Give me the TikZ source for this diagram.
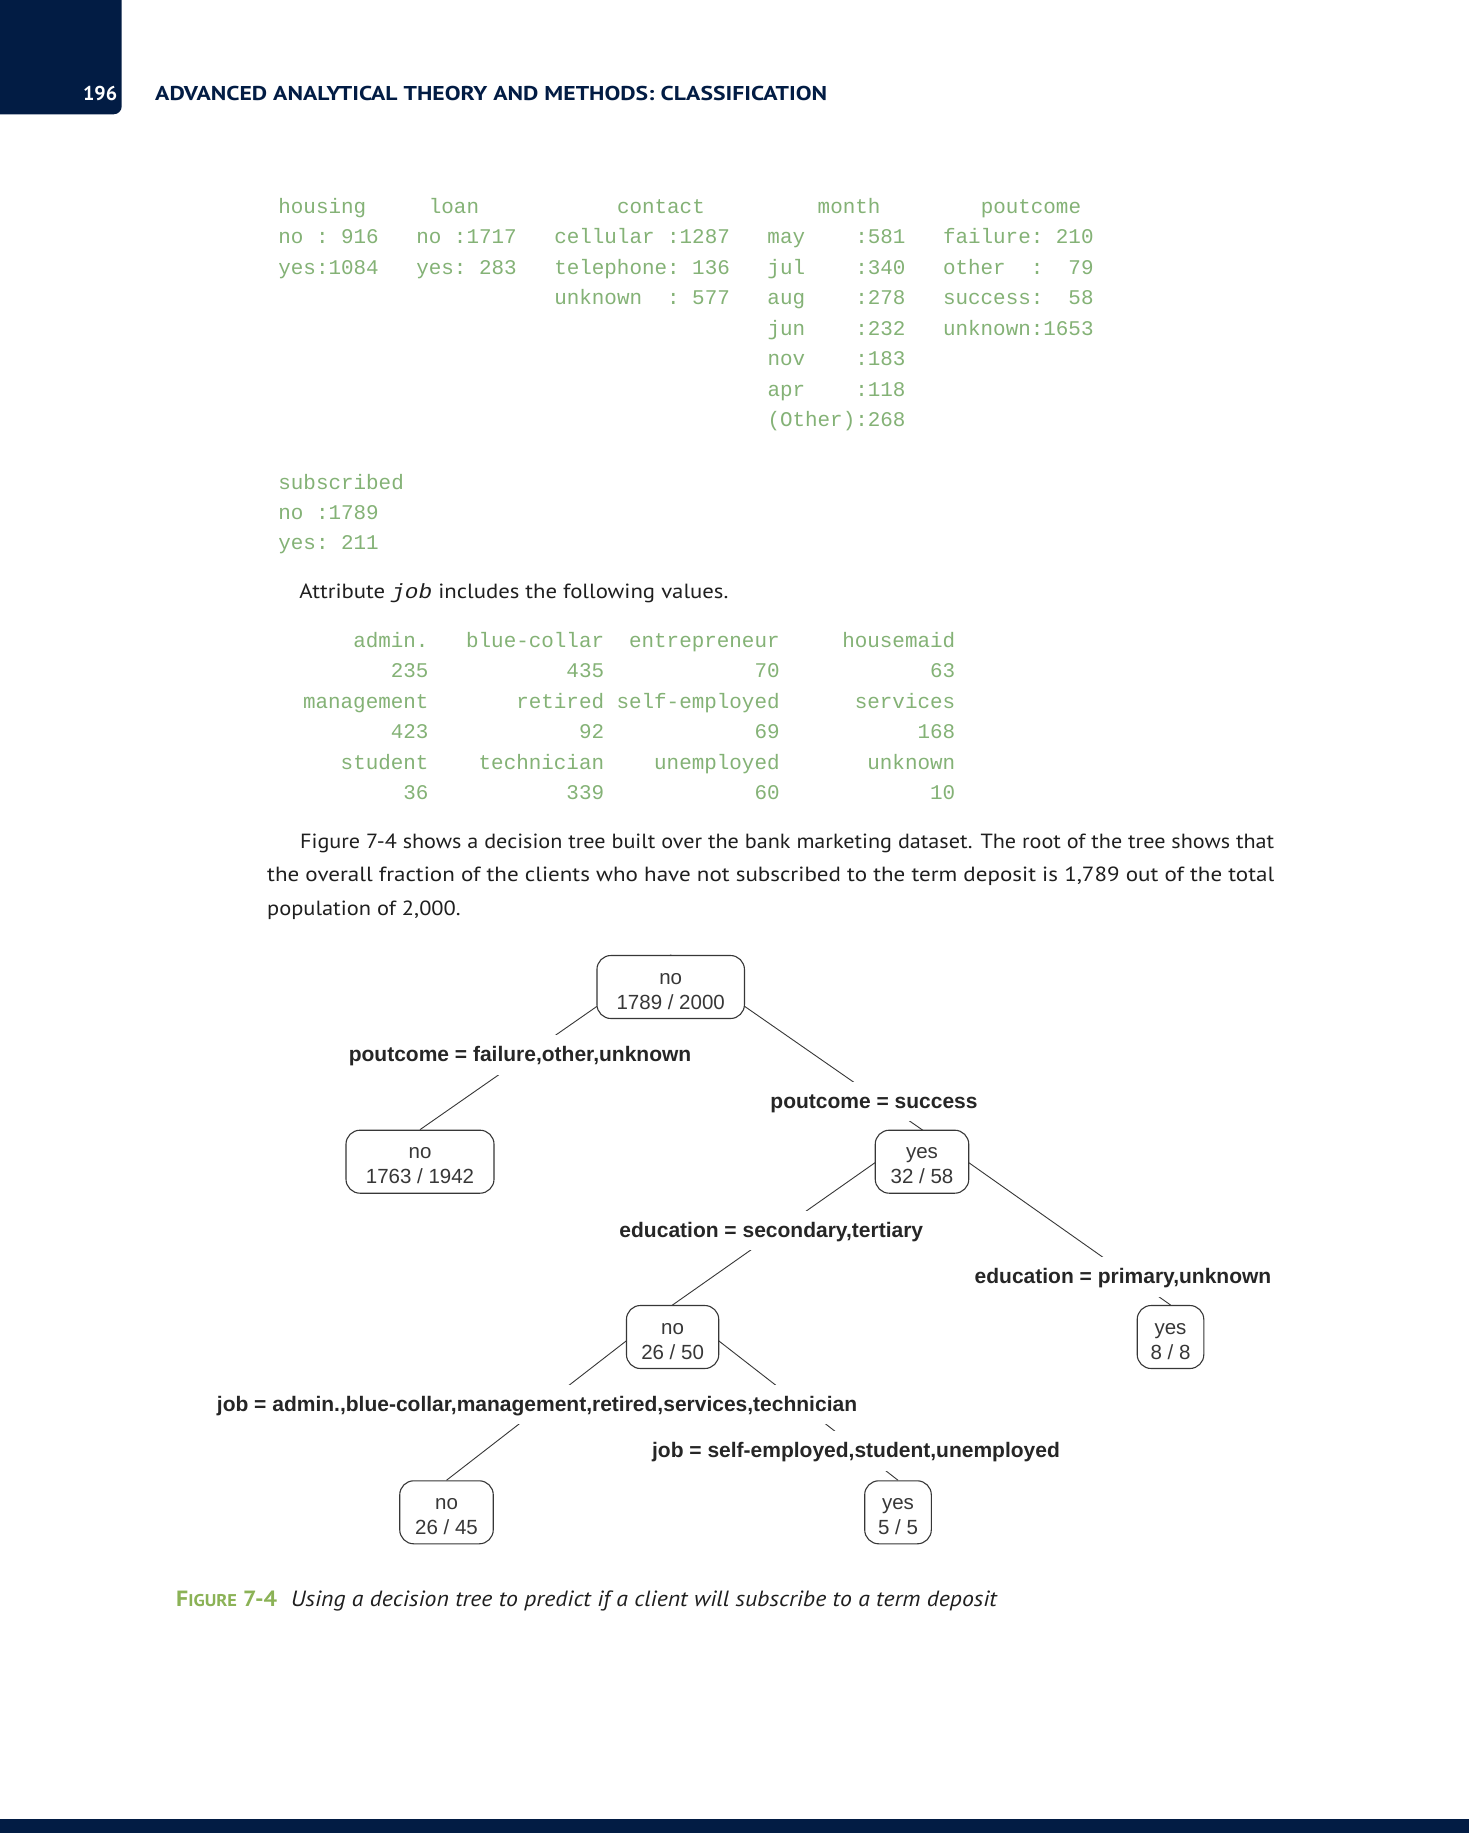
\documentclass[tikz,border=0pt]{standalone}
\usepackage{fontspec}
\usepackage{graphicx}
\setmainfont{PT Sans}
\newfontfamily\treefont{Liberation Sans}
\newfontfamily\codefont{Liberation Mono}
\usetikzlibrary{positioning}

\definecolor{pagenavy}{RGB}{2,28,68}
\definecolor{codegreen}{RGB}{132,178,118}
\definecolor{capgreen}{RGB}{139,178,86}
\definecolor{treegray}{RGB}{55,55,55}

\pgfdeclarelayer{paper}
\pgfdeclarelayer{edges}
\pgfsetlayers{paper,edges,main}

% squeeze a line of text to a given width
\newcommand{\squeeze}[2]{\resizebox{#1}{\height}{#2}}

\begin{document}
\begin{tikzpicture}[
    x=1pt, y=-1pt,
    code/.style={anchor=base west, inner sep=0pt, text=codegreen, font=\codefont\fontsize{20.9}{25}\selectfont},
    coder/.style={code, anchor=base east},
    body/.style={anchor=base west, inner sep=0pt, text=black!88, font=\fontsize{20.5}{25}\selectfont},
    leaf/.style={draw=treegray, fill=white, line width=1.1pt, rounded corners=14pt, align=center, text=treegray, minimum height=63pt, inner sep=0pt, text height=44pt, text depth=0pt, font=\treefont\fontsize{20.5}{25}\selectfont},
    split/.style={fill=white, text=black!85, inner xsep=2pt, inner ysep=10pt, text height=16.5pt, text depth=3pt, font=\treefont\bfseries\fontsize{21}{25}\selectfont},
    edge/.style={draw=treegray, line width=0.9pt}
]
\useasboundingbox (0,0) rectangle (1469,1833);
\begin{pgfonlayer}{paper}
\fill[white] (0,0) rectangle (1469,1833);
\end{pgfonlayer}

% page head and foot
\fill[pagenavy] (0,0) -- (121.7,0) -- (121.7,106.3) arc[start angle=0, end angle=90, radius=8] -- (0,114.3) -- cycle;
\fill[pagenavy] (0,1819) rectangle (1469,1833);
\node[anchor=base east, inner sep=0pt, text=white, font=\bfseries\fontsize{20}{24}\selectfont] (pageno) at (117.3,100.7) {196};
\node[anchor=base west, inner sep=0pt, text=pagenavy, font=\bfseries\fontsize{20}{24}\selectfont] (runhead) at (155,100.7) {\squeeze{672pt}{ADVANCED ANALYTICAL THEORY AND METHODS: CLASSIFICATION}};

% summary output
\node[code] (sum1) at (278.2,213.3) {housing~~~~~loan~~~~~~~~~~~contact~~~~~~~~~month~~~~~~~~poutcome};
\node[code] (sum2) at (278.2,243.75) {no~:~916~~~no~:1717~~~cellular~:1287~~~may~~~~:581~~~failure:~210};
\node[code] (sum3) at (278.2,274.2) {yes:1084~~~yes:~283~~~telephone:~136~~~jul~~~~:340~~~other~~:~~79};
\node[code] (sum4) at (554.1,304.65) {unknown~~:~577~~~aug~~~~:278~~~success:~~58};
\node[code] (sum5) at (767.3,335.1) {jun~~~~:232~~~unknown:1653};
\node[code] (sum6) at (767.3,365.55) {nov~~~~:183};
\node[code] (sum7) at (767.3,396) {apr~~~~:118};
\node[code] (sum8) at (767.3,426.45) {(Other):268};

\node[code] (subs1) at (278.2,489.1) {subscribed};
\node[code] (subs2) at (278.2,519.5) {no~:1789};
\node[code] (subs3) at (278.2,549.9) {yes:~211};

\node[body] (attr) at (299.2,598) {\squeeze{429pt}{Attribute {\codefont\itshape job} includes the following values.}};

% job counts
\foreach \ja/\jb/\jc/\jd [count=\r from 0] in {admin./blue-collar/entrepreneur/housemaid, 235/435/70/63, management/retired/self-employed/services, 423/92/69/168, student/technician/unemployed/unknown, 36/339/60/10}
{
  \node[coder] (jobA\r) at (428.7,647.1+30.5*\r) {\ja};
  \node[coder] (jobB\r) at (604.3,647.1+30.5*\r) {\jb};
  \node[coder] (jobC\r) at (779.8,647.1+30.5*\r) {\jc};
  \node[coder] (jobD\r) at (955.4,647.1+30.5*\r) {\jd};
}

\node[body] (para1) at (300,848.3) {\squeeze{974pt}{Figure 7-4 shows a decision tree built over the bank marketing dataset. The root of the tree shows that}};
\node[body] (para2) at (267,881.7) {\squeeze{1007pt}{the overall fraction of the clients who have not subscribed to the term deposit is 1,789 out of the total}};
\node[body] (para3) at (267,915) {\squeeze{193.5pt}{population of 2,000.}};

% decision tree
\node[leaf, minimum width=147.5pt] (n1) at (670.7,987) {no\\1789 / 2000};
\node[leaf, minimum width=148pt] (n2) at (420,1161.7) {no\\1763 / 1942};
\node[leaf, minimum width=93.5pt] (n3) at (922,1161.7) {yes\\32 / 58};
\node[leaf, minimum width=92.3pt] (n6) at (672.6,1337) {no\\26 / 50};
\node[leaf, minimum width=66.6pt] (n7) at (1170.5,1337) {yes\\8 / 8};
\node[leaf, minimum width=93.5pt] (n12) at (446.5,1512.3) {no\\26 / 45};
\node[leaf, minimum width=66.6pt] (n13) at (898,1512.3) {yes\\5 / 5};

\begin{pgfonlayer}{edges}
\draw[edge] (n1.north) -- (n2.north);
\draw[edge] (n1.north) -- (n3.north);
\draw[edge] (n3.north) -- (n6.north);
\draw[edge] (n3.north) -- (n7.north);
\draw[edge] (n6.north) -- (n12.north);
\draw[edge] (n6.north) -- (n13.north);
\end{pgfonlayer}

\node[split] (l2) at (520,1055) {poutcome = failure,other,unknown};
\node[split] (l3) at (874,1101.7) {poutcome = success};
\node[split] (l6) at (771.3,1230.3) {education = secondary,tertiary};
\node[split] (l7) at (1123,1277) {education = primary,unknown};
\node[split] (l12) at (537,1404.4) {job = admin.,blue-collar,management,retired,services,technician};
\node[split] (l13) at (856,1451.2) {job = self-employed,student,unemployed};

% caption
\node[anchor=base west, inner sep=0pt, text=capgreen, font=\bfseries] (capno) at (176,1606) {\squeeze{101pt}{{\fontsize{22}{26}\selectfont F}{\fontsize{17}{20}\selectfont IGURE}\fontsize{22}{26}\selectfont~7-4}};
\node[anchor=base west, inner sep=0pt, text=black!88, font=\itshape\fontsize{22}{26}\selectfont] (captext) at (290.7,1606) {\squeeze{706pt}{Using a decision tree to predict if a client will subscribe to a term deposit}};
\end{tikzpicture}
\end{document}
